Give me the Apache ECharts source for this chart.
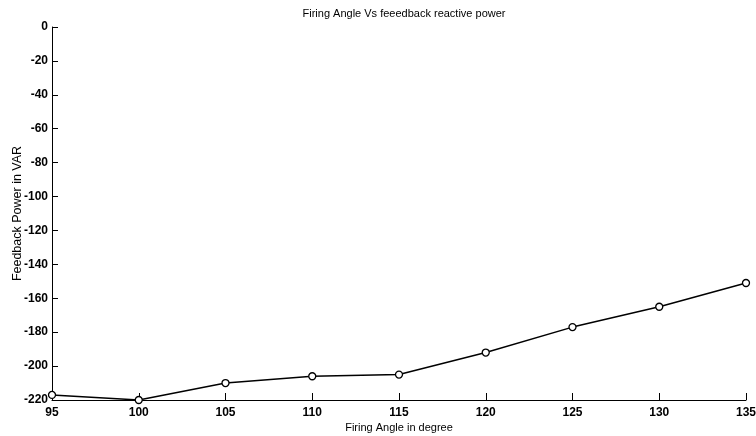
<!DOCTYPE html>
<html>
<head>
<meta charset="utf-8">
<script src="https://cdn.jsdelivr.net/npm/echarts@6/dist/echarts.min.js"></script>
<style>
  html, body { margin: 0; padding: 0; background: #fff; }
  #chart { width: 756px; height: 436px; }
</style>
</head>
<body>
<div id="chart"></div>
<script>
const firingAngle = [95, 100, 105, 110, 115, 120, 125, 130, 135]
const feedbackPower = [-217, -220, -210, -206, -205, -192, -177, -165, -151]

const chart = echarts.init(document.getElementById('chart'), null, { renderer: 'canvas' })

const labelFont = { color: '#000', fontFamily: 'Liberation Sans', fontWeight: 'bold', fontSize: 12 }

chart.setOption({
  backgroundColor: '#fff',
  animation: false,
  title: {
    text: 'Firing Angle Vs feeedback reactive power',
    left: 399,
    textAlign: 'center',
    top: 3,
    textStyle: { color: '#000', fontFamily: 'Liberation Sans', fontWeight: 'normal', fontSize: 11 },
  },
  grid: { left: 52, right: 10, top: 27, bottom: 36, outerBoundsMode: 'none' },
  xAxis: {
    type: 'value',
    min: 95,
    max: 135,
    interval: 5,
    name: 'Firing Angle in degree',
    nameLocation: 'middle',
    nameGap: 22,
    nameMoveOverlap: false,
    nameTextStyle: { color: '#000', fontFamily: 'Liberation Sans', fontSize: 11 },
    axisLine: { onZero: false, lineStyle: { color: '#000', width: 1 } },
    axisTick: { inside: true, length: 7, lineStyle: { color: '#000' } },
    axisLabel: Object.assign({ margin: 7, hideOverlap: false }, labelFont),
    splitLine: { show: false },
  },
  yAxis: {
    type: 'value',
    min: -220,
    max: 0,
    interval: 20,
    name: 'Feedback Power in VAR',
    nameLocation: 'middle',
    nameGap: 28,
    nameMoveOverlap: false,
    nameTextStyle: { color: '#000', fontFamily: 'Liberation Sans', fontSize: 12.5 },
    axisLine: { onZero: false, lineStyle: { color: '#000', width: 1 } },
    axisTick: { inside: true, length: 6, lineStyle: { color: '#000' } },
    axisLabel: Object.assign({ margin: 4 }, labelFont),
    splitLine: { show: false },
  },
  series: [
    {
      type: 'line',
      data: firingAngle.map((x, i) => [x, feedbackPower[i]]),
      symbol: 'circle',
      symbolSize: 7,
      showAllSymbol: true,
      clip: false,
      lineStyle: { color: '#000', width: 1.5 },
      itemStyle: { color: '#fff', borderColor: '#000', borderWidth: 1.3 },
    },
  ],
})
</script>
</body>
</html>
